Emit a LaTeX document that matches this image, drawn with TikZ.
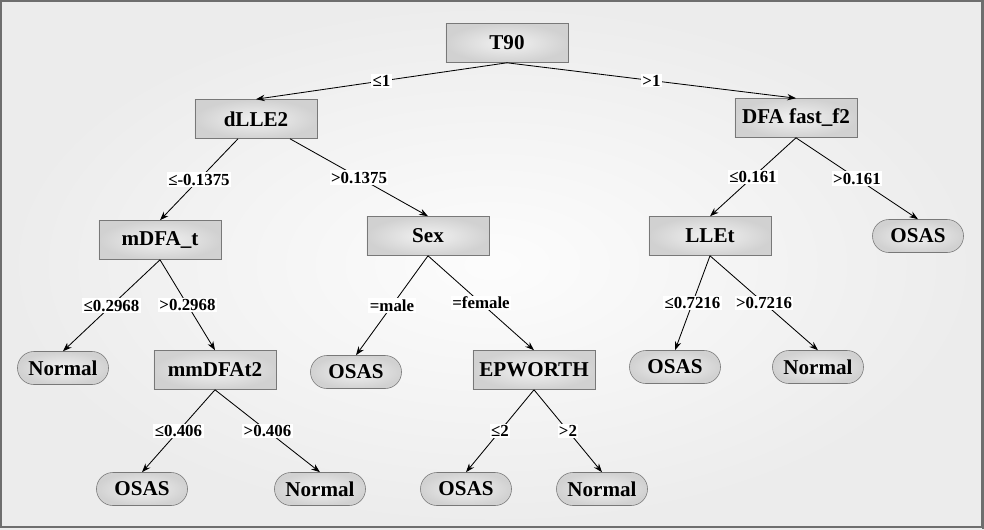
\documentclass[tikz,border=0pt]{standalone}
\usepackage{fontspec}
\setmainfont{Liberation Serif}
\usetikzlibrary{arrows.meta,shapes}
\definecolor{framegray}{RGB}{110, 110, 110}
\definecolor{boxline}{RGB}{120, 120, 120}

\begin{document}
\begin{tikzpicture}[x=0.025cm, y=-0.025cm, >={Stealth[length=2.2mm, width=1.6mm]},
    split/.style={draw=boxline, rectangle, inner color=gray!10, outer color=gray!36, minimum width=3.05cm, minimum height=0.975cm, font=\fontsize{15}{18}\selectfont\bfseries},
    leaf/.style={draw=boxline, rectangle, rounded corners=0.41cm, inner color=gray!10, outer color=gray!36, minimum width=2.275cm, minimum height=0.825cm, font=\fontsize{15}{18}\selectfont\bfseries},
    cond/.style={fill=white, inner sep=1pt, font=\fontsize{12}{14}\selectfont\bfseries},
    branch/.style={->, line width=0.6pt}]
        % Background and frame
        \useasboundingbox (0,0) rectangle (984,529);
        \shade[inner color=gray!2, outer color=gray!15] (0,0) rectangle (984,529);
        \draw[framegray, line width=1.2pt] (1,1) rectangle (982,527);
        \draw[framegray, line width=2pt] (983,0) -- (983,529);

        % Split nodes
        \node[split] (t90) at (507, 43) {T90};
        \node[split] (dlle2) at (256, 119) {dLLE2};
        \node[split] (dfafast) at (796, 118) {DFA fast\_f2};
        \node[split] (mdfat) at (160, 240) {mDFA\_t};
        \node[split] (sex) at (428, 236) {Sex};
        \node[split] (llet) at (710, 236) {LLEt};
        \node[split] (mmdfat2) at (215, 370) {mmDFAt2};
        \node[split] (epworth) at (534, 370) {EPWORTH};

        % Leaf nodes
        \node[leaf] (osasA) at (918, 236) {OSAS};
        \node[leaf] (normalA) at (63, 368) {Normal};
        \node[leaf] (osasB) at (356, 372) {OSAS};
        \node[leaf] (osasC) at (675, 367) {OSAS};
        \node[leaf] (normalB) at (818, 367) {Normal};
        \node[leaf] (osasD) at (142, 489) {OSAS};
        \node[leaf] (normalC) at (320, 489) {Normal};
        \node[leaf] (osasE) at (466, 489) {OSAS};
        \node[leaf] (normalD) at (602, 489) {Normal};

        % Branches with conditions
        \draw[branch] (t90.south) -- node[cond] {≤1} (dlle2.north);
        \draw[branch] (t90.south) -- node[cond] {>1} (dfafast.north);
        \draw[branch] ([xshift=-0.45cm]dlle2.south) -- node[cond] {≤-0.1375} (mdfat.north);
        \draw[branch] ([xshift=0.85cm]dlle2.south) -- node[cond] {>0.1375} (sex.north);
        \draw[branch] (dfafast.south) -- node[cond] {≤0.161} (llet.north);
        \draw[branch] (dfafast.south) -- node[cond] {>0.161} (osasA.north);
        \draw[branch] (mdfat.south) -- node[cond] {≤0.2968} (normalA.north);
        \draw[branch] (mdfat.south) -- node[cond] {>0.2968} (mmdfat2.north);
        \draw[branch] (sex.south) -- node[cond] {=male} (osasB.north);
        \draw[branch] (sex.south) -- node[cond] {=female} (epworth.north);
        \draw[branch] (llet.south) -- node[cond] {≤0.7216} (osasC.north);
        \draw[branch] (llet.south) -- node[cond] {>0.7216} (normalB.north);
        \draw[branch] (mmdfat2.south) -- node[cond] {≤0.406} (osasD.north);
        \draw[branch] (mmdfat2.south) -- node[cond] {>0.406} (normalC.north);
        \draw[branch] (epworth.south) -- node[cond] {≤2} (osasE.north);
        \draw[branch] (epworth.south) -- node[cond] {>2} (normalD.north);
    \end{tikzpicture}
\end{document}
